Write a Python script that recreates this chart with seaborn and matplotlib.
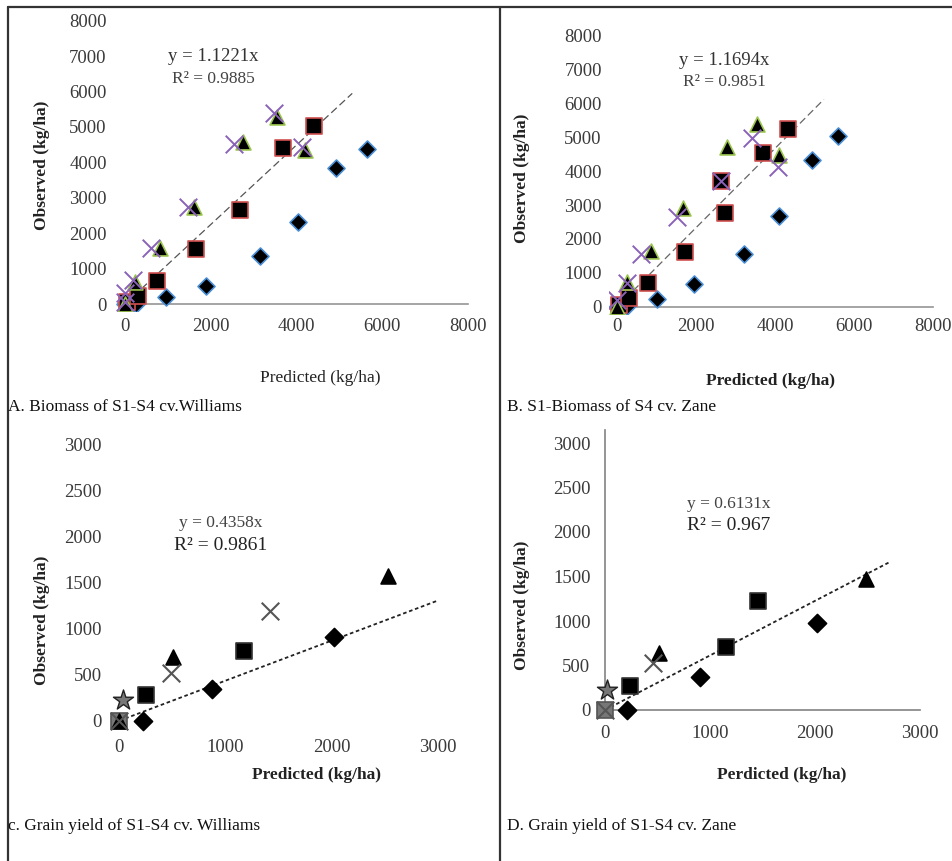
import matplotlib
matplotlib.use("Agg")
import matplotlib.pyplot as plt
from matplotlib.lines import Line2D
import seaborn as sns
import numpy as np
import pandas as pd

sns.set_theme(style="white")
plt.rcParams['font.family'] = ['Liberation Serif', 'DejaVu Serif']

# ---------------- data ----------------
# Panel A: Biomass of S1-S4 cv. Williams
a_dia_x = [0, 250, 965, 1900, 3150, 4030, 4910, 5640]
a_dia_y = [0, 0, 188, 510, 1355, 2325, 3830, 4380]
a_sq_x = [40, 300, 757, 1660, 2680, 3690, 4416]
a_sq_y = [60, 220, 650, 1545, 2655, 4415, 5025]
a_tri_x = [0, 232, 811, 1621, 2741, 3551, 4207]
a_tri_y = [0, 630, 1572, 2748, 4584, 5290, 4348]
a_x_x = [0, 0, 193, 618, 1467, 2548, 3474, 4130]
a_x_y = [60, 300, 678, 1572, 2729, 4518, 5402, 4442]
a_slope, a_line_end = 1.1221, 5300
a_eq = ["y = 1.1221x", "R² = 0.9885"]

# Panel B: S1-Biomass of S4 cv. Zane
b_dia_x = [0, 253, 1013, 1950, 3216, 4085, 4920, 5580]
b_dia_y = [0, 30, 226, 659, 1545, 2677, 4331, 5049]
b_sq_x = [50, 304, 768, 1713, 2625, 2726, 3697, 4330]
b_sq_y = [50, 266, 709, 1624, 3711, 2776, 4528, 5246]
b_tri_x = [0, 253, 852, 1671, 2768, 3528, 4102]
b_tri_y = [0, 738, 1654, 2904, 4724, 5394, 4478]
b_x_x = [0, 236, 599, 1502, 2625, 3401, 4077]
b_x_y = [197, 689, 1555, 2638, 3711, 4970, 4134]
b_slope, b_line_end = 1.1694, 5230
b_eq = ["y = 1.1694x", "R² = 0.9851"]

# Panel C: Grain yield of S1-S4 cv. Williams
c_dia_x = [219, 875, 2019]
c_dia_y = [0, 341, 906]
c_sq_x = [0, 251, 1176]
c_sq_y = [0, 279, 761]
c_tri_x = [0, 508, 2530]
c_tri_y = [0, 688, 1572]
c_x_x = [0, 486, 1417]
c_x_y = [0, 514, 1196]
c_star_x = [30]
c_star_y = [225]
c_slope, c_line_end = 0.4358, 3000
c_eq = ["y = 0.4358x", "R² = 0.9861"]

# Panel D: Grain yield of S1-S4 cv. Zane
d_dia_x = [206, 905, 2022]
d_dia_y = [0, 367, 973]
d_sq_x = [0, 238, 1152, 1460]
d_sq_y = [0, 269, 704, 1228]
d_tri_x = [517, 2486]
d_tri_y = [636, 1467]
d_x_x = [0, 460]
d_x_y = [0, 531]
d_star_x = [16]
d_star_y = [225]
d_slope, d_line_end = 0.6131, 2700
d_eq = ["y = 0.6131x", "R² = 0.967"]

big_ticks = [0, 1000, 2000, 3000, 4000, 5000, 6000, 7000, 8000]
big_xticks = [0, 2000, 4000, 6000, 8000]
small_ticks = [0, 500, 1000, 1500, 2000, 2500, 3000]
small_xticks = [0, 1000, 2000, 3000]

captions = ["A. Biomass of S1-S4 cv.Williams", "B. S1-Biomass of S4 cv. Zane",
            "c. Grain yield of S1-S4 cv. Williams", "D. Grain yield of S1-S4 cv. Zane"]
xlabels = ["Predicted (kg/ha)", "Predicted (kg/ha)", "Predicted (kg/ha)", "Perdicted (kg/ha)"]
ylabel = "Observed (kg/ha)"

# ---------------- figure ----------------
W, H = 952, 861
fig = plt.figure(figsize=(W / 100, H / 100), dpi=100)
fig.patch.set_facecolor("white")


def box(l, t, r, b):
    return [l / W, 1 - b / H, (r - l) / W, (b - t) / H]


TICK_COLOR = "#3a3a3a"
TFS = 13.5


def scatter(ax, x, y, marker, face, edge, s, lw=1.2):
    df = pd.DataFrame({"x": x, "y": y})
    sns.scatterplot(data=df, x="x", y="y", marker=marker, color=face,
                    edgecolor=edge, s=s, linewidth=lw, ax=ax, zorder=3)


def reg_line(ax, slope, xend, style, color, lw):
    xs = np.array([0, xend], dtype=float)
    df = pd.DataFrame({"x": xs, "y": slope * xs})
    sns.lineplot(data=df, x="x", y="y", ax=ax, color=color, linestyle=style,
                 linewidth=lw, zorder=2)


def setup(ax, xlim, ylim, xt, yt):
    ax.set_xlim(*xlim)
    ax.set_ylim(*ylim)
    ax.set_xticks(xt)
    ax.set_yticks(yt)
    ax.set_xticklabels([str(v) for v in xt])
    ax.set_yticklabels([str(v) for v in yt])
    ax.set_xlabel("")
    ax.set_ylabel("")
    ax.set_facecolor("none")
    for sp in ax.spines.values():
        sp.set_visible(False)
    ax.tick_params(length=0, labelsize=TFS, labelcolor=TICK_COLOR)
    ax.grid(False)


BLUE, RED, GREEN, PURPLE = "#4a8fd6", "#d05050", "#9bc44e", "#8a62b8"

# ---- Panel A ----
axA = fig.add_axes(box(116.4, 13.6, 476.6, 311.1))
reg_line(axA, a_slope, a_line_end, (0, (6, 3)), "#555555", 0.9)
scatter(axA, a_dia_x, a_dia_y, "D", "black", BLUE, 75)
scatter(axA, a_sq_x, a_sq_y, "s", "black", RED, 140)
scatter(axA, a_tri_x, a_tri_y, "^", "black", GREEN, 115)
scatter(axA, a_x_x, a_x_y, "x", PURPLE, PURPLE, 160, 1.4)
setup(axA, (-200, 8200), (-200, 8200), big_xticks, big_ticks)
axA.spines['bottom'].set_visible(True)
axA.spines['bottom'].set_position(('data', 0))
axA.spines['bottom'].set_bounds(-150, 8000)
axA.spines['bottom'].set_color("#999999")
axA.tick_params(axis='x', pad=10)
axA.tick_params(axis='y', pad=7)
axA.text(2050, 7000, a_eq[0], ha="center", va="center", fontsize=13.5, color="#333333")
axA.text(2050, 6350, a_eq[1], ha="center", va="center", fontsize=12.5, color="#444444")

# ---- Panel B ----
axB = fig.add_axes(box(609.4, 28.7, 941.2, 313.5))
reg_line(axB, b_slope, b_line_end, (0, (6, 3)), "#666666", 0.9)
scatter(axB, b_dia_x, b_dia_y, "D", "black", BLUE, 75)
scatter(axB, b_sq_x, b_sq_y, "s", "black", RED, 140)
scatter(axB, b_tri_x, b_tri_y, "^", "black", GREEN, 115)
scatter(axB, b_x_x, b_x_y, "x", PURPLE, PURPLE, 160, 1.4)
setup(axB, (-200, 8200), (-200, 8200), big_xticks, big_ticks)
axB.spines['bottom'].set_visible(True)
axB.spines['bottom'].set_position(('data', 0))
axB.spines['bottom'].set_bounds(0, 8000)
axB.spines['bottom'].set_color("#999999")
axB.tick_params(axis='x', pad=8)
axB.tick_params(axis='y', pad=5.5)
axB.text(2700, 7250, b_eq[0], ha="center", va="center", fontsize=13.5, color="#333333")
axB.text(2700, 6620, b_eq[1], ha="center", va="center", fontsize=12.5, color="#444444")

# ---- Panel C ----
axC = fig.add_axes(box(103.4, 430.9, 454.1, 734.5))
reg_line(axC, c_slope, c_line_end, (0, (2, 1.5)), "#222222", 1.3)
scatter(axC, [0], [0], "s", "#777777", "#555555", 130)
scatter(axC, c_dia_x, c_dia_y, "D", "black", "black", 85)
scatter(axC, c_sq_x[1:], c_sq_y[1:], "s", "black", "#333333", 130)
scatter(axC, c_tri_x, c_tri_y, "^", "black", "black", 115)
scatter(axC, c_x_x, c_x_y, "x", "#555555", "#555555", 160, 1.5)
scatter(axC, c_star_x, c_star_y, "*", "#777777", "#222222", 230, 1.0)
setup(axC, (-150, 3150), (-150, 3150), small_xticks, small_ticks)
axC.tick_params(axis='x', pad=3)
axC.tick_params(axis='y', pad=1)
axC.text(950, 2145, c_eq[0], ha="center", va="center", fontsize=12.5, color="#444444")
axC.text(950, 1899, c_eq[1], ha="center", va="center", fontsize=14, color="#222222")

# ---- Panel D ----
axD = fig.add_axes(box(589.25, 429.65, 935.75, 723.35))
reg_line(axD, d_slope, d_line_end, (0, (2, 1.5)), "#222222", 1.3)
scatter(axD, [0], [0], "s", "#777777", "#555555", 130)
scatter(axD, d_dia_x, d_dia_y, "D", "black", "black", 85)
scatter(axD, d_sq_x[1:], d_sq_y[1:], "s", "black", "#333333", 130)
scatter(axD, d_tri_x, d_tri_y, "^", "black", "black", 115)
scatter(axD, d_x_x, d_x_y, "x", "#555555", "#555555", 160, 1.5)
scatter(axD, d_star_x, d_star_y, "*", "#777777", "#222222", 230, 1.0)
setup(axD, (-150, 3150), (-150, 3150), small_xticks, small_ticks)
for side, bnd in (("bottom", (0, 3000)), ("left", (0, 3150))):
    axD.spines[side].set_visible(True)
    axD.spines[side].set_position(('data', 0))
    axD.spines[side].set_bounds(*bnd)
    axD.spines[side].set_color("#888888")
axD.tick_params(axis='x', pad=11)
axD.tick_params(axis='y', pad=10.5)
axD.text(1175, 2320, d_eq[0], ha="center", va="center", fontsize=12.5, color="#444444")
axD.text(1175, 2077, d_eq[1], ha="center", va="center", fontsize=14, color="#222222")

# ---- labels and captions ----
def ftext(x, y, s, **kw):
    fig.text(x / W, 1 - y / H, s, **kw)

ftext(42, 165, ylabel, rotation=90, ha="center", va="center", fontsize=12.5, fontweight="bold", color="#222222")
ftext(522, 178, ylabel, rotation=90, ha="center", va="center", fontsize=12.5, fontweight="bold", color="#222222")
ftext(42, 620, ylabel, rotation=90, ha="center", va="center", fontsize=12.5, fontweight="bold", color="#222222")
ftext(522, 605, ylabel, rotation=90, ha="center", va="center", fontsize=12.5, fontweight="bold", color="#222222")

ftext(320, 378, xlabels[0], ha="center", va="center", fontsize=12.5, color="#222222")
ftext(770, 381, xlabels[1], ha="center", va="center", fontsize=12.5, fontweight="bold", color="#222222")
ftext(317, 775, xlabels[2], ha="center", va="center", fontsize=12.5, fontweight="bold", color="#222222")
ftext(782, 775, xlabels[3], ha="center", va="center", fontsize=12.5, fontweight="bold", color="#222222")

ftext(8, 407, captions[0], ha="left", va="center", fontsize=12.5, color="#111111")
ftext(507, 407, captions[1], ha="left", va="center", fontsize=12.5, color="#111111")
ftext(8, 826, captions[2], ha="left", va="center", fontsize=12.5, color="#111111")
ftext(507, 826, captions[3], ha="left", va="center", fontsize=12.5, color="#111111")

# ---- frame lines ----
def fline(x0, y0, x1, y1):
    fig.add_artist(Line2D([x0 / W, x1 / W], [1 - y0 / H, 1 - y1 / H],
                          color="#333333", linewidth=1.6))

fline(8, 7, 952, 7)
fline(8, 7, 8, 861)
fline(500, 7, 500, 861)

fig.savefig("out.png", dpi=100, facecolor="white")
